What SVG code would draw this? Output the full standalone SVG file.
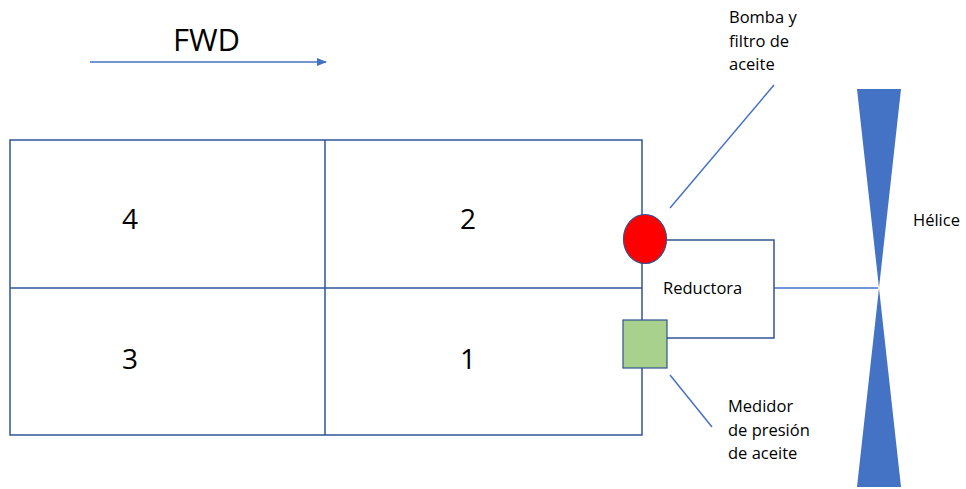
<svg xmlns="http://www.w3.org/2000/svg" width="966" height="489" viewBox="0 0 966 489">
<style>
.ln{stroke:#4472C4;stroke-width:1.5;fill:none}
.bx{stroke:#2F5597;stroke-width:1.5;fill:none}
.t{font-family:"Open Sans","Noto Sans",sans-serif;fill:#000}
.s{font-size:16.5px}
.n{font-size:28px}
</style>
<defs>
<marker id="ah" markerWidth="10" markerHeight="8" refX="9" refY="4" orient="auto" markerUnits="userSpaceOnUse">
<path d="M0,0 L10,4 L0,8 Z" fill="#4472C4"/>
</marker>
</defs>
<rect width="966" height="489" fill="#fff"/>
<g id="fwd">
<text class="t" x="173" y="51" font-size="31">FWD</text>
</g>
<g id="compartments">
<rect class="bx" x="10" y="140" width="632" height="295"/>
<line class="bx" x1="325" y1="140" x2="325" y2="435"/>
<line class="bx" x1="10" y1="288" x2="642" y2="288"/>
<text class="t n" x="130" y="229" text-anchor="middle">4</text>
<text class="t n" x="468" y="229" text-anchor="middle">2</text>
<text class="t n" x="130" y="369" text-anchor="middle">3</text>
<text class="t n" x="468" y="369" text-anchor="middle">1</text>
</g>
<g id="connectors">
<line class="ln" x1="90" y1="62" x2="326" y2="62" marker-end="url(#ah)"/>
<line class="ln" x1="670" y1="208" x2="774" y2="85"/>
<line class="ln" x1="670" y1="375" x2="712" y2="427"/>
<line class="ln" x1="774" y1="288" x2="878" y2="288"/>
</g>
<g id="reductora">
<polyline class="bx" points="665,240 774,240 774,338 666,338"/>
<text class="t s" x="663" y="294">Reductora</text>
</g>
<g id="bomba">
<ellipse cx="645" cy="239" rx="21.5" ry="24.5" fill="#FF0000" stroke="#2F528F" stroke-width="1.2"/>
<text class="t s"><tspan x="729" y="23">Bomba y</tspan><tspan x="729" y="47">filtro de</tspan><tspan x="729" y="70">aceite</tspan></text>
</g>
<g id="medidor">
<rect x="623" y="320" width="44" height="48" fill="#A9D18E" stroke="#2F528F" stroke-width="1.2"/>
<text class="t s"><tspan x="728" y="412">Medidor</tspan><tspan x="728" y="436">de presión</tspan><tspan x="728" y="459">de aceite</tspan></text>
</g>
<g id="helice">
<polygon points="857,89 901,89 879,288 901,487 857,487 879,288" fill="#4472C4"/>
<text class="t s" x="913" y="226">Hélice</text>
</g>
</svg>
